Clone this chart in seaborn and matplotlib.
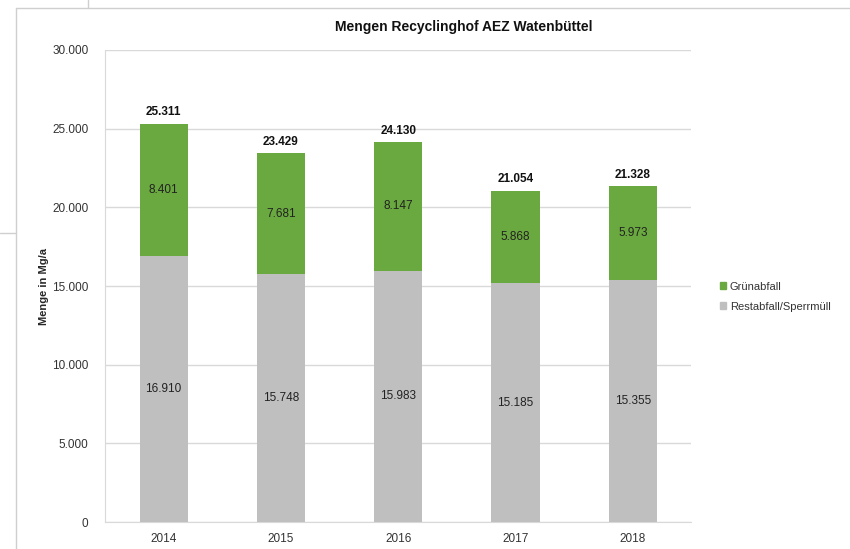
import matplotlib
matplotlib.use("Agg")
import matplotlib.pyplot as plt
import matplotlib.ticker as mticker
from matplotlib.lines import Line2D
from matplotlib.patches import Patch
import seaborn as sns
import pandas as pd

years = ["2014", "2015", "2016", "2017", "2018"]
restabfall = [16910, 15748, 15983, 15185, 15355]
gruenabfall = [8401, 7681, 8147, 5868, 5973]
totals = [25311, 23429, 24130, 21054, 21328]

green = "#6aa93f"
grey = "#bfbfbf"

df = pd.DataFrame({"Jahr": years, "Rest": restabfall, "Gruen": gruenabfall, "Summe": totals})

sns.set_style("white")
plt.rcParams["font.family"] = ["Liberation Sans", "DejaVu Sans"]

fig = plt.figure(figsize=(8.5, 5.49), dpi=100)
ax = fig.add_axes([0.1235, 0.049, 0.69, 0.86])

# stacked bars: totals in green first, then the grey base on top
sns.barplot(data=df, x="Jahr", y="Summe", color=green, width=0.41, saturation=1,
            linewidth=0, ax=ax, zorder=2)
sns.barplot(data=df, x="Jahr", y="Rest", color=grey, width=0.41, saturation=1,
            linewidth=0, ax=ax, zorder=3)

ax.set_ylim(0, 30000)
ax.set_xlim(-0.5, 4.5)
ax.yaxis.set_major_locator(mticker.MultipleLocator(5000))
ax.yaxis.set_major_formatter(mticker.FuncFormatter(lambda v, p: f"{int(v):,}".replace(",", ".")))
ax.grid(axis="y", color="#d9d9d9", linewidth=1, zorder=0)
ax.set_axisbelow(True)
for s in ["top", "right"]:
    ax.spines[s].set_visible(False)
ax.spines["left"].set_color("#d9d9d9")
ax.spines["bottom"].set_color("#d9d9d9")
ax.tick_params(axis="both", labelsize=8.5, colors="#333333", length=4, color="#d9d9d9")
ax.tick_params(axis="y", length=0, pad=12)
ax.set_xlabel("")
ax.set_ylabel("Menge in Mg/a", fontsize=8, fontweight="bold", labelpad=2)

fmt = lambda v: f"{v:,}".replace(",", ".")
for i in range(len(years)):
    ax.text(i, restabfall[i] / 2, fmt(restabfall[i]), ha="center", va="center", fontsize=8.5, color="#222222", zorder=4)
    ax.text(i, restabfall[i] + gruenabfall[i] / 2, fmt(gruenabfall[i]), ha="center", va="center", fontsize=8.5, color="#222222", zorder=4)
    ax.text(i, totals[i] + 350, fmt(totals[i]), ha="center", va="bottom", fontsize=8.5, fontweight="bold", color="#111111", zorder=4)

fig.text(0.545, 0.95, "Mengen Recyclinghof AEZ Watenbüttel", ha="center", va="center",
         fontsize=10, fontweight="bold", color="#111111")

handles = [Patch(color=green, label="Grünabfall"), Patch(color=grey, label="Restabfall/Sperrmüll")]
fig.legend(handles=handles, loc="upper left", bbox_to_anchor=(0.835, 0.505), frameon=False,
           fontsize=8, handlelength=0.6, handleheight=0.6, handletextpad=0.3, labelspacing=0.9,
           labelcolor="#333333")

# screenshot frame lines
lc = "#cfcfcf"
fig.add_artist(Line2D([0.019, 0.019], [0.0, 0.985], transform=fig.transFigure, color=lc, lw=1))
fig.add_artist(Line2D([0.019, 1.0], [0.985, 0.985], transform=fig.transFigure, color=lc, lw=1))
fig.add_artist(Line2D([0.104, 0.104], [0.985, 1.0], transform=fig.transFigure, color=lc, lw=1))
fig.add_artist(Line2D([0.0, 0.019], [0.575, 0.575], transform=fig.transFigure, color=lc, lw=1))

fig.savefig("out.png", dpi=100)
